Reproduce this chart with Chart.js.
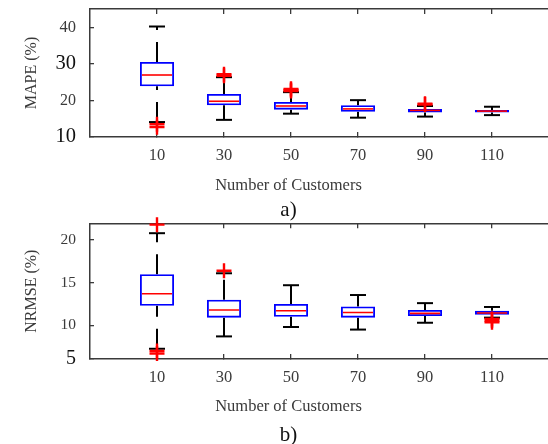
<!DOCTYPE html>
<html>
<head>
<meta charset="utf-8">
<script src="https://cdn.jsdelivr.net/npm/chart.js@4.4.1/dist/chart.umd.min.js"></script>
<style>
  html, body { margin: 0; padding: 0; background: #fff; overflow: hidden; }
  body { width: 548px; height: 444px; position: relative; overflow: hidden; }
  canvas { position: absolute; left: 0; }
  #graficoMape { top: -10px; }
  #graficoNrmse { top: 200px; }
</style>
</head>
<body>
<canvas id="graficoMape" width="614" height="232"></canvas>
<canvas id="graficoNrmse" width="614" height="247"></canvas>
<script>
const clientes = ['10', '30', '50', '70', '90', '110'];

// MAPE (%)
const mapeBigoteInf = [14.1, 14.7, 16.4, 15.3, 15.6, 16.0];
const mapeQ1 = [23.9, 18.7, 17.5, 16.9, 16.7, 16.7];
const mapeMediana = [27.0, 19.8, 18.5, 17.7, 17.3, 17.1];
const mapeQ3 = [30.6, 21.8, 19.6, 18.7, 17.7, 17.4];
const mapeBigoteSup = [40.3, 26.4, 22.3, 20.1, 18.5, 18.3];
const mapeAtipicos = [[13.5, 12.7], [26.8, 27.2], [22.6, 22.9, 23.2], [], [18.9, 19.1], []];
const mapeMarcas = [10, 20, 30, 40];

// NRMSE (%)
const nrmseBigoteInf = [7.25, 8.7, 9.8, 9.5, 10.3, 10.9];
const nrmseQ1 = [12.3, 10.9, 11.0, 10.9, 11.1, 11.25];
const nrmseMediana = [13.7, 11.8, 11.7, 11.5, 11.4, 11.45];
const nrmseQ3 = [16.0, 13.0, 12.5, 12.2, 11.8, 11.7];
const nrmseBigoteSup = [20.8, 16.1, 14.7, 13.55, 12.6, 12.15];
const nrmseAtipicos = [[21.8, 7.0, 6.7], [16.4], [], [], [], [10.75, 10.55, 10.35]];
const nrmseMarcas = [5, 10, 15, 20];

const colorEje = '#3a3a3a';
const serif = '"Liberation Serif", "Times New Roman", serif';

function graficoCaja(idCanvas, p) {
  const ctx = document.getElementById(idCanvas).getContext('2d');
  const pos = i => i + 1;

  const cajas = clientes.map((c, i) => ({ x: pos(i), y: [p.q1[i], p.q3[i]] }));
  const medianas = clientes.map((c, i) => ({ x: pos(i), y: p.mediana[i] }));
  const topes = clientes.flatMap((c, i) => [
    { x: pos(i), y: p.inf[i] }, { x: pos(i), y: p.sup[i] }
  ]);
  // each whisker is its own segment, drawn from the low end upwards
  const bigotes = clientes.flatMap((c, i) => [
    { x: pos(i), y: p.inf[i] }, { x: pos(i), y: p.q1[i] }, { x: pos(i), y: null },
    { x: pos(i), y: p.q3[i] }, { x: pos(i), y: p.sup[i] }, { x: pos(i), y: null }
  ]);
  const atipicos = clientes.flatMap((c, i) => p.atipicos[i].map(v => ({ x: pos(i), y: v })));

  const marcasX = s => { s.ticks = clientes.map((c, i) => ({ value: pos(i) })); };
  const rejilla = { drawOnChartArea: false, tickLength: -5, color: colorEje, lineWidth: 1.3, offset: false };
  const borde = { display: true, color: colorEje, width: 1.5 };

  return new Chart(ctx, {
    type: 'bar',
    data: {
      datasets: [
        {
          type: 'scatter',
          data: atipicos,
          pointStyle: 'cross',
          pointRadius: 7.5,
          pointBorderWidth: 2.4,
          pointBorderColor: '#ff0000',
          clip: false,
          order: 0
        },
        {
          type: 'scatter',
          data: medianas,
          pointStyle: 'line',
          pointRadius: 15,
          pointBorderWidth: 1.6,
          pointBorderColor: '#ff0000',
          order: 1
        },
        {
          type: 'scatter',
          data: topes,
          pointStyle: 'line',
          pointRadius: 8,
          pointBorderWidth: 2,
          pointBorderColor: '#000000',
          clip: false,
          order: 2
        },
        {
          type: 'bar',
          data: cajas,
          barThickness: 34,
          borderColor: '#0000ff',
          borderWidth: 1.8,
          borderSkipped: false,
          backgroundColor: 'rgba(0,0,0,0)',
          inflateAmount: 0,
          order: 3
        },
        {
          type: 'line',
          data: bigotes,
          borderColor: '#000000',
          borderWidth: 2,
          borderDash: [20, 12],
          pointRadius: 0,
          spanGaps: false,
          tension: 0,
          fill: false,
          order: 4
        }
      ]
    },
    options: {
      responsive: false,
      animation: false,
      events: [],
      layout: { padding: { left: 18, top: p.arriba, right: 55, bottom: p.abajo } },
      plugins: {
        legend: { display: false },
        tooltip: { enabled: false },
        subtitle: {
          display: true,
          position: 'bottom',
          text: 'Number of Customers',
          color: colorEje,
          font: { family: serif, size: 16.5, weight: 'normal', lineHeight: 1.1 },
          padding: { top: 0, bottom: p.sepLetra }
        },
        title: {
          display: true,
          position: 'bottom',
          text: p.letra,
          color: '#111',
          font: { family: serif, size: 21, weight: 'normal', lineHeight: 1.1 },
          padding: 0
        }
      },
      scales: {
        x: {
          type: 'linear',
          position: 'bottom',
          min: 0,
          max: clientes.length + 1,
          offset: false,
          afterBuildTicks: marcasX,
          afterFit: s => { s.height = p.altoEjeX; s.paddingLeft = 0; s.paddingRight = 0; },
          ticks: {
            callback: (v, i) => clientes[i],
            color: colorEje,
            font: { family: serif, size: 16.5 },
            padding: 14,
            maxRotation: 0,
            autoSkip: false
          },
          grid: rejilla,
          border: borde
        },
        xSup: {
          type: 'linear',
          position: 'top',
          min: 0,
          max: clientes.length + 1,
          offset: false,
          afterBuildTicks: marcasX,
          afterFit: s => { s.height = 0; s.paddingLeft = 0; s.paddingRight = 0; },
          ticks: { display: false },
          grid: rejilla,
          border: borde
        },
        y: {
          type: 'linear',
          min: p.min,
          max: p.max,
          beginAtZero: false,
          // the lowest mark sits on the bottom edge of the axis
          afterBuildTicks: s => { s.ticks = p.marcas.map(v => ({ value: Math.max(v, s.min) })); },
          afterFit: s => { s.width = 72; s.paddingTop = 0; s.paddingBottom = 0; },
          ticks: {
            callback: (v, i) => String(p.marcas[i]),
            color: c => (p.tamMarcas[c.index] > 18 ? '#111' : colorEje),
            font: c => ({ family: serif, size: p.tamMarcas[c.index] }),
            padding: 18,
            autoSkip: false
          },
          grid: { drawOnChartArea: false, tickLength: -4, color: colorEje, lineWidth: 1.3 },
          border: borde,
          title: {
            display: true,
            text: p.titulo,
            color: colorEje,
            font: { family: serif, size: 16 },
            padding: { top: 4, bottom: 4 }
          }
        }
      }
    }
  });
}

const graficoMape = graficoCaja('graficoMape', {
  inf: mapeBigoteInf, q1: mapeQ1, mediana: mapeMediana, q3: mapeQ3, sup: mapeBigoteSup,
  atipicos: mapeAtipicos, marcas: mapeMarcas, tamMarcas: [20.5, 16, 20.5, 16.5],
  min: 10, max: 45.1, titulo: 'MAPE (%)', letra: 'a)',
  arriba: 19, abajo: 0.45, altoEjeX: 40, sepLetra: 3.3
});

const graficoNrmse = graficoCaja('graficoNrmse', {
  inf: nrmseBigoteInf, q1: nrmseQ1, mediana: nrmseMediana, q3: nrmseQ3, sup: nrmseBigoteSup,
  atipicos: nrmseAtipicos, marcas: nrmseMarcas, tamMarcas: [20, 15.5, 15.5, 15.5],
  min: 6.05, max: 21.96, titulo: 'NRMSE (%)', letra: 'b)',
  arriba: 23.3, abajo: 0.45, altoEjeX: 38.7, sepLetra: 7.6
});
</script>
</body>
</html>
